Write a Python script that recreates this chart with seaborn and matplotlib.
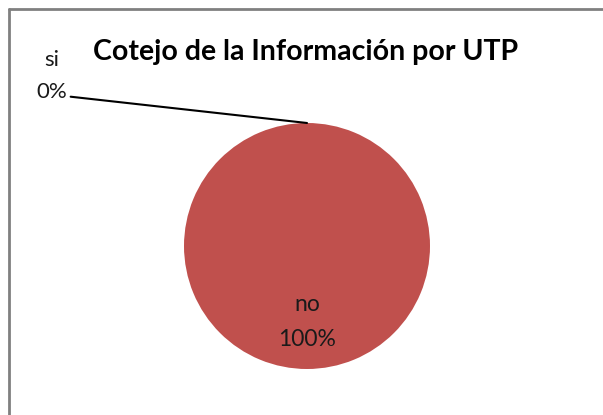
import matplotlib
matplotlib.use("Agg")
import matplotlib.pyplot as plt
from matplotlib.lines import Line2D
import seaborn as sns
import numpy as np

labels = ["si", "no"]
values = [0, 100]
colors = ["#4F81BD", "#C0504D"]
title = "Cotejo de la Información por UTP"

sns.set_theme(style="white")
plt.rcParams['font.family'] = ['Lato', 'DejaVu Sans']

fig = plt.figure(figsize=(6.03, 4.15), dpi=100)
ax = fig.add_axes([0, 0, 1, 1])

# pie centre at (307, 246) px, radius 123 px
r_px = 123
cx, cy = 307, 246
wedges, _ = ax.pie(values, colors=colors, startangle=90, counterclock=False,
                   radius=1, wedgeprops=dict(linewidth=0))
ax.set_xlim(-cx / r_px, (603 - cx) / r_px)
ax.set_ylim(-(415 - cy) / r_px, cy / r_px)
ax.set_aspect('auto')
ax.axis('off')

total = sum(values)
start = 90
for lab, v in zip(labels, values):
    pct = v / total * 100
    mid = np.deg2rad(start - pct / 100 * 360 / 2)
    start -= pct / 100 * 360
    txt = f"{lab}\n{pct:.0f}%"
    if pct > 0:
        ax.text(0.62 * np.cos(mid), 0.62 * np.sin(mid), txt,
                ha='center', va='center', fontsize=16.5, color='#1a1a1a',
                linespacing=1.8)
    else:
        px = np.cos(mid)
        py = np.sin(mid)
        ax.annotate(txt, xy=(px, py), xytext=((52 - cx) / r_px, (cy - 76) / r_px),
                    ha='center', va='center', fontsize=16, color='#1a1a1a',
                    linespacing=1.7,
                    arrowprops=dict(arrowstyle='-', color='black', lw=1.5,
                                    shrinkA=0, shrinkB=0,
                                    relpos=(1.04, 0.1)))

fig.text(306 / 603, 1 - 52 / 415, title, ha='center', va='center',
         fontsize=20.5, fontweight='bold', color='black')

# chart border
fig.add_artist(Line2D([9 / 603, 1], [1 - 9 / 415, 1 - 9 / 415], color='#808080', lw=2))
fig.add_artist(Line2D([9 / 603, 9 / 603], [0, 1 - 9 / 415], color='#808080', lw=2))

fig.savefig("out.png", dpi=100)
